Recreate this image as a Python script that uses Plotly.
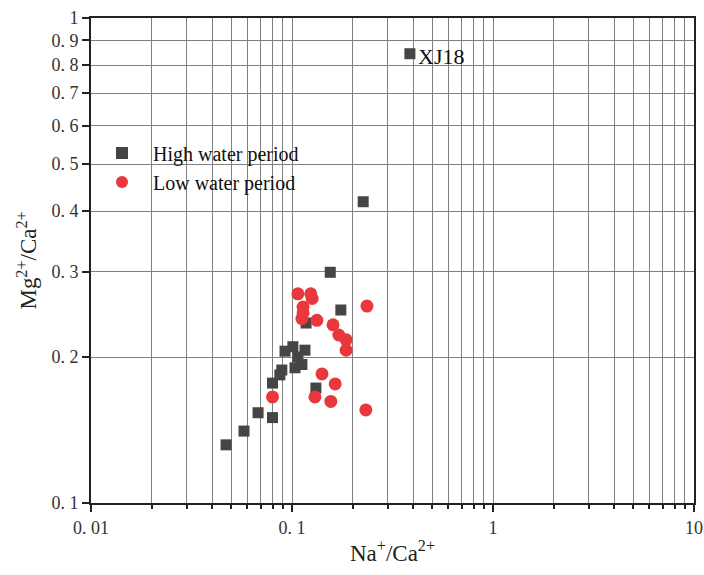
import math
import plotly.graph_objects as go

# High water period (squares)
high_x = [0.386, 0.226, 0.155, 0.175, 0.1175, 0.1315, 0.0923, 0.101, 0.116, 0.107,
          0.112, 0.1035, 0.089, 0.087, 0.080, 0.080, 0.0678, 0.0577, 0.047]
high_y = [0.844, 0.418, 0.299, 0.250, 0.235, 0.1726, 0.2056, 0.210, 0.2066, 0.200,
          0.193, 0.190, 0.188, 0.1837, 0.1767, 0.150, 0.1535, 0.1407, 0.1318]

# Low water period (circles)
low_x = [0.107, 0.124, 0.126, 0.1135, 0.1135, 0.112, 0.133, 0.160, 0.171, 0.186,
         0.186, 0.236, 0.141, 0.164, 0.130, 0.156, 0.233, 0.080]
low_y = [0.270, 0.270, 0.264, 0.2535, 0.2466, 0.240, 0.238, 0.233, 0.222, 0.217,
         0.2066, 0.2547, 0.1846, 0.176, 0.1655, 0.162, 0.1556, 0.1655]

label_point = ("XJ18", 0.386, 0.844)

x_major_vals = [0.01, 0.1, 1, 10]
x_major_text = ["0. 01", "0. 1", "1", "10"]
x_minor_vals = [m * d for d in [0.01, 0.1, 1] for m in range(2, 10)]

y_vals = [0.1, 0.2, 0.3, 0.4, 0.5, 0.6, 0.7, 0.8, 0.9, 1]
y_text = ["0. 1", "0. 2", "0. 3", "0. 4", "0. 5", "0. 6", "0. 7", "0. 8", "0. 9", "1"]

FONT = "Liberation Serif, Times New Roman, serif"
GRID = "#808080"

fig = go.Figure()
fig.add_trace(go.Scatter(
    x=high_x, y=high_y, mode="markers", name="High water period",
    marker=dict(symbol="square", size=11, color="#454545"),
))
fig.add_trace(go.Scatter(
    x=low_x, y=low_y, mode="markers", name="Low water period",
    marker=dict(symbol="circle", size=13, color="#e8383e"),
))

# annotation coordinates on log axes are given in log10 units
fig.add_annotation(
    x=math.log10(label_point[1]), y=math.log10(label_point[2]), xref="x", yref="y",
    text=label_point[0], showarrow=False, xanchor="left", yanchor="middle",
    xshift=6, yshift=-3, font=dict(family=FONT, size=22, color="#111"),
)

fig.update_xaxes(
    type="log", range=[-2, 1],
    tickvals=x_major_vals, ticktext=x_major_text,
    ticks="outside", ticklen=7, tickwidth=1.5, tickcolor="#222",
    showgrid=True, gridcolor=GRID, gridwidth=1,
    minor=dict(tickvals=x_minor_vals, ticks="outside", ticklen=4,
               tickcolor="#222", showgrid=True, gridcolor=GRID, gridwidth=1),
    showline=True, linecolor="#222", linewidth=2, mirror=True,
    zeroline=False, automargin=False,
    tickfont=dict(family=FONT, size=18, color="#333"),
    title=dict(text="Na<sup>+</sup>/Ca<sup>2+</sup>", font=dict(family=FONT, size=23, color="#222"), standoff=8),
)
fig.update_yaxes(
    type="log", range=[-1, 0],
    tickvals=y_vals, ticktext=y_text,
    ticks="outside", ticklen=7, tickwidth=1.5, tickcolor="#222",
    showgrid=True, gridcolor=GRID, gridwidth=1,
    showline=True, linecolor="#222", linewidth=2, mirror=True,
    zeroline=False, automargin=False,
    tickfont=dict(family=FONT, size=18, color="#333"),
    title=dict(text="Mg<sup>2+</sup>/Ca<sup>2+</sup>", font=dict(family=FONT, size=23, color="#222"), standoff=8),
)

fig.update_layout(
    width=704, height=575,
    margin=dict(l=91, r=10, t=18, b=72, autoexpand=False),
    plot_bgcolor="white", paper_bgcolor="white",
    showlegend=True,
    legend=dict(x=0.0, y=0.762, xanchor="left", yanchor="top",
                bgcolor="rgba(255,255,255,0)", borderwidth=0,
                font=dict(family=FONT, size=20, color="#111"),
                itemwidth=52, itemsizing="constant", tracegroupgap=0),
)

fig.write_html("out.html")
